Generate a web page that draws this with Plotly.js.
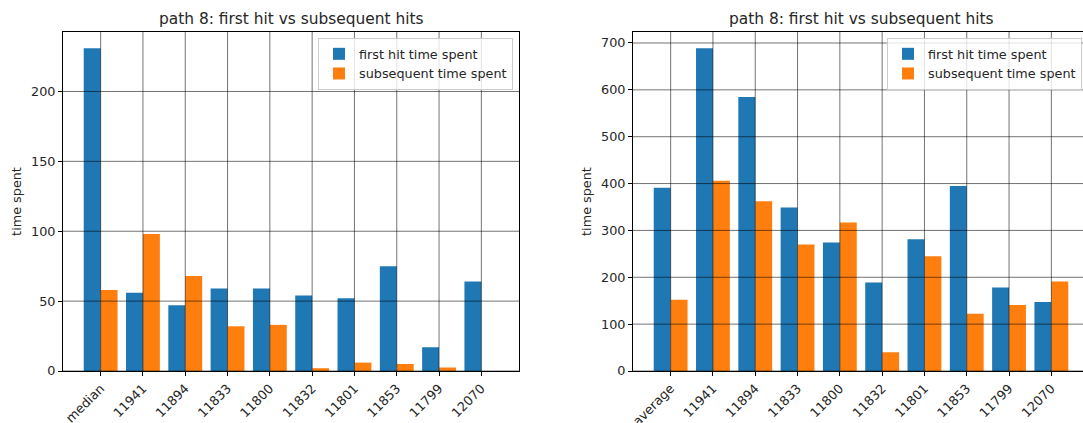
<!DOCTYPE html>
<html>
<head>
<meta charset="utf-8">
<script src="https://cdn.plot.ly/plotly-3.0.1.min.js"></script>
<style>
html,body{margin:0;padding:0;overflow:hidden;background:#fff;}
#chart{width:1100px;height:423px;}
</style>
</head>
<body>
<div id="chart"></div>
<script>
// ---- data ----
const categoriesLeft = ['median','11941','11894','11833','11800','11832','11801','11853','11799','12070'];
const categoriesRight = ['average','11941','11894','11833','11800','11832','11801','11853','11799','12070'];
const firstHitLeft = [231, 56, 47, 59, 59, 54, 52, 75, 17, 64];
const subsequentLeft = [58, 98, 68, 32, 33, 2, 6, 5, 2.5, 0];
const firstHitRight = [391, 689, 585, 349, 274, 189, 281, 395, 178, 147];
const subsequentRight = [152, 406, 362, 270, 317, 40, 245, 122, 141, 191];
const yTicksLeft = [0, 50, 100, 150, 200];
const yTicksRight = [0, 100, 200, 300, 400, 500, 600, 700];
const seriesNames = ['first hit time spent', 'subsequent time spent'];
const chartTitle = 'path 8: first hit vs subsequent hits';
const yTitle = 'time spent';

// ---- style ----
const W = 1100, H = 423;
const BLUE = '#1f77b4', ORANGE = '#ff7f0e';
const FONT = 'DejaVu Sans, sans-serif';
const TXT = '#262626';
const GRID = 'rgba(0,0,0,0.55)';
const FS = 12.8, FS_TITLE = 15.4;
const px = v => v / W;
const py = v => (H - v) / H;

function yMax(a, b) { return Math.max(...a, ...b) * 1.05; }

const traces = [
  {type:'bar', x:categoriesLeft, y:firstHitLeft, name:seriesNames[0], marker:{color:BLUE, line:{width:0}}, xaxis:'x', yaxis:'y', legend:'legend'},
  {type:'bar', x:categoriesLeft, y:subsequentLeft, name:seriesNames[1], marker:{color:ORANGE, line:{width:0}}, xaxis:'x', yaxis:'y', legend:'legend'},
  {type:'bar', x:categoriesRight, y:firstHitRight, name:seriesNames[0], marker:{color:BLUE, line:{width:0}}, xaxis:'x2', yaxis:'y2', legend:'legend2'},
  {type:'bar', x:categoriesRight, y:subsequentRight, name:seriesNames[1], marker:{color:ORANGE, line:{width:0}}, xaxis:'x2', yaxis:'y2', legend:'legend2'}
];

function xAxis(domain, anchor) {
  return {
    type:'category', domain:domain, anchor:anchor, range:[-0.89, 9.89],
    showgrid:false, zeroline:false, showline:true, linecolor:'#000', linewidth:1, mirror:true,
    ticks:'outside', ticklen:4, tickwidth:1, tickcolor:'#000', tickangle:-45,
    tickfont:{family:FONT, size:FS, color:TXT}, automargin:false, fixedrange:true
  };
}
function yAxis(domain, anchor, ticks, maxv) {
  return {
    domain:domain, anchor:anchor, range:[0, maxv], tickvals:ticks, ticktext:ticks.map(String),
    showgrid:false, zeroline:false, showline:true, linecolor:'#000', linewidth:1, mirror:true,
    ticks:'outside', ticklen:4, tickwidth:1, tickcolor:'#000',
    tickfont:{family:FONT, size:FS, color:TXT}, automargin:false, fixedrange:true,
    title:{text:yTitle, font:{family:FONT, size:FS, color:TXT}, standoff:6}
  };
}

const yDom = [py(371), py(32)];
const legendStyle = {bgcolor:'rgba(255,255,255,0.8)', bordercolor:'#cccccc', borderwidth:1, font:{family:FONT, size:FS, color:TXT}, tracegroupgap:0, itemwidth:30};
const layout = {
  width:W, height:H, margin:{l:0, r:0, t:0, b:0},
  paper_bgcolor:'#fff', plot_bgcolor:'#fff',
  barmode:'group', bargap:0.2, bargroupgap:0,
  font:{family:FONT, color:TXT},
  xaxis: xAxis([px(63), px(519)], 'y'),
  yaxis: yAxis(yDom, 'x', yTicksLeft, yMax(firstHitLeft, subsequentLeft)),
  xaxis2: xAxis([px(633), px(1089)], 'y2'),
  yaxis2: yAxis(yDom, 'x2', yTicksRight, yMax(firstHitRight, subsequentRight)),
  legend: Object.assign({x:px(513), xanchor:'right', y:py(38), yanchor:'top'}, legendStyle),
  legend2: Object.assign({x:px(1082), xanchor:'right', y:py(38), yanchor:'top'}, legendStyle),
  annotations: [
    {text:chartTitle, xref:'x domain', yref:'y domain', x:0.5, y:1, xanchor:'center', yanchor:'bottom', yshift:2, showarrow:false, font:{family:FONT, size:FS_TITLE, color:TXT}},
    {text:chartTitle, xref:'x2 domain', yref:'y2 domain', x:0.5, y:1, xanchor:'center', yanchor:'bottom', yshift:2, showarrow:false, font:{family:FONT, size:FS_TITLE, color:TXT}}
  ],
  shapes: []
};

// grid lines drawn above the bars, at the tick positions (category index)
function addGrid(xr, yr, cats, yt) {
  cats.forEach((c, i) => layout.shapes.push({type:'line', layer:'above', xref:xr, yref:yr + ' domain', x0:i, x1:i, y0:0, y1:1, line:{color:GRID, width:1}}));
  yt.forEach(v => layout.shapes.push({type:'line', layer:'above', xref:xr + ' domain', yref:yr, x0:0, x1:1, y0:v, y1:v, line:{color:GRID, width:1}}));
}
addGrid('x', 'y', categoriesLeft, yTicksLeft);
addGrid('x2', 'y2', categoriesRight, yTicksRight);

Plotly.newPlot('chart', traces, layout, {displayModeBar:false, staticPlot:true});
</script>
</body>
</html>
